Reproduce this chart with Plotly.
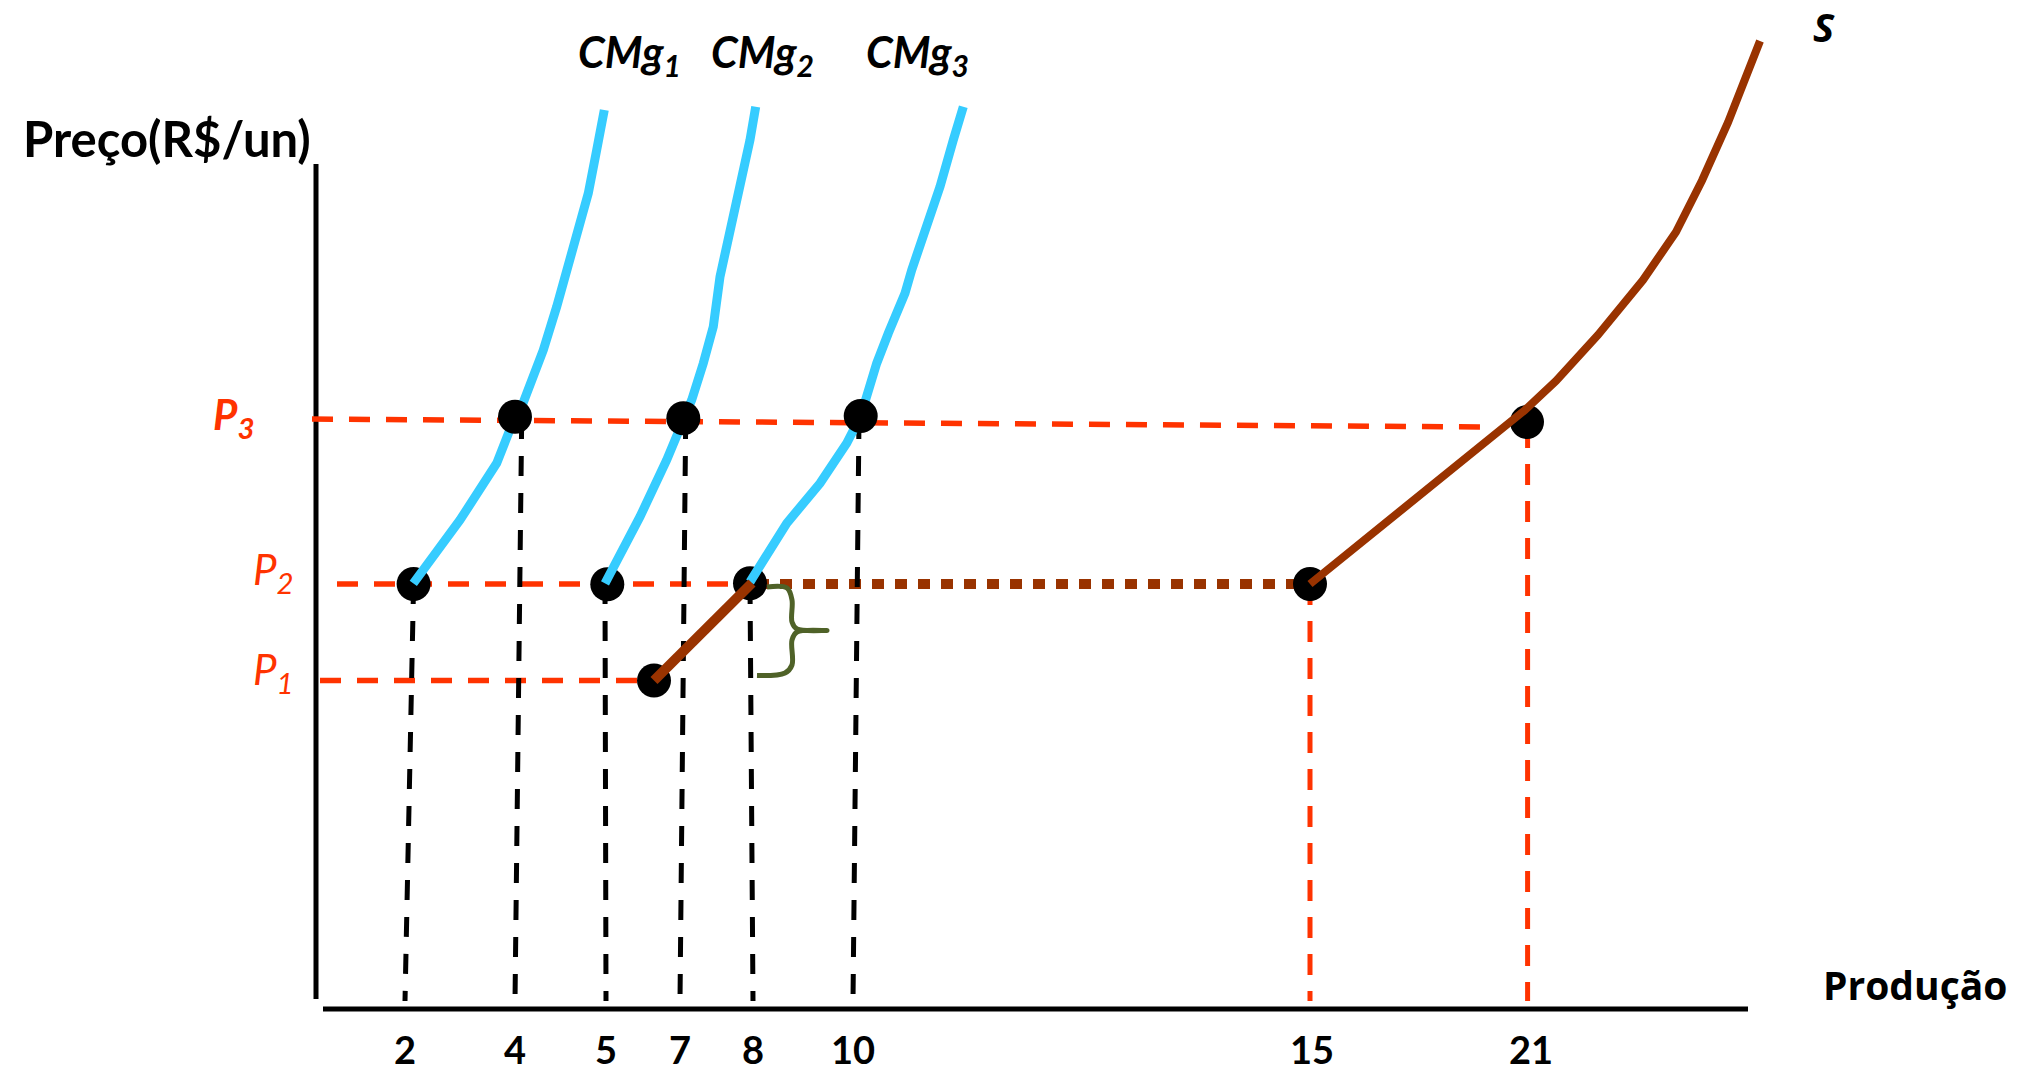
import plotly.graph_objects as go

# ---------------- data (diagram units: horizontal = production axis, vertical = price axis) ----
quantities = ["2", "4", "5", "7", "8", "10", "15", "21"]
q_axis = [89, 199, 290, 364, 437, 537, 996, 1215]          # where each quantity sits on the axis
price_names = ["P1", "P2", "P3"]
price_levels = [328.5, 425, 590]

# equilibrium points
dots_q = [97.6, 199, 291.3, 367.3, 434, 544.7, 994, 1211, 338]
dots_p = [425, 592.3, 424.7, 590.7, 425.7, 593, 425, 587, 328.5]

# marginal cost curves
cmg1_q = [97.3, 124, 144, 180.7, 199, 205.7, 214, 227.3, 240.7, 252.3, 262.3, 272.3, 280.7, 288.3]
cmg1_p = [425.7, 462.3, 489, 545.7, 592.3, 602.3, 622.3, 659, 702.3, 742.3, 775.7, 815.7, 859, 899]
cmg2_q = [289, 324, 350.7, 367.3, 375.7, 387.3, 397.3, 404, 415.7, 424, 434, 439.7]
cmg2_p = [425.7, 492.3, 549, 590.7, 609, 645.7, 682.3, 732.3, 782.3, 825.7, 869, 902.3]
cmg3_q = [434, 470.7, 504, 530.7, 544.7, 560.7, 572.3, 589, 595.7, 610.7, 624, 637.3, 647.3]
cmg3_p = [427, 485.7, 525.7, 565.7, 593, 645.7, 675.7, 715.7, 739, 782.3, 822.3, 869, 902.3]

# industry supply curve
s_q = [994, 1083, 1156.5, 1209, 1240, 1282, 1327, 1360, 1386, 1412, 1444]
s_p = [425, 498, 558, 599, 628, 674, 729, 777, 828.5, 886.5, 968]
s_low_q = [338, 436]
s_low_p = [328.5, 426]

# brace
brace_q = [451, 471, 476, 476, 481, 511, 481, 476, 476, 469, 441]
brace_p = [422, 421, 409, 387, 380, 378.5, 377, 369, 344, 336, 333.5]

BLUE = "#36CCFF"
RED = "#FF3300"
BROWN = "#993300"
GREEN = "#4F6228"

fig = go.Figure()

def line(x, y, color, width, dash=None, shape="linear"):
    fig.add_trace(go.Scatter(x=x, y=y, mode="lines", hoverinfo="skip",
                             line=dict(color=color, width=width, dash=dash, shape=shape)))

# axes
line([0, 0], [10, 845], "black", 5)
line([7, 1432], [0, 0], "black", 5)

# horizontal price guides
line([4, dots_q[8]], [price_levels[0], price_levels[0]], RED, 5.5, "21px,16px")
line([21, dots_q[4]], [price_levels[1], price_levels[1]], RED, 5.5, "21px,16px")
line([-4, 1175], [price_levels[2], 582], RED, 5.5, "21px,16px")
line([441, dots_q[6]], [price_levels[1], price_levels[1]], BROWN, 10, "12px,11px")

# vertical guides
top_q = [97.6, 205.7, 289, 369.7, 434, 543]
top_p = [425, 590, 425, 590, 425, 590]
for i in range(6):
    line([top_q[i], q_axis[i]], [top_p[i], 8], "black", 5, "20px,17px")
line([994, q_axis[6] - 2], [425, 8], RED, 5, "21px,16px")
line([1211.6, 1211.6], [582, 8], RED, 5, "21px,16px")

# lower dots (under curves)
lower = [0, 2, 4, 6, 7, 8]
fig.add_trace(go.Scatter(x=[dots_q[i] for i in lower], y=[dots_p[i] for i in lower],
                         mode="markers", hoverinfo="skip",
                         marker=dict(color="black", size=34, line=dict(width=0))))

# curves
line(cmg1_q, cmg1_p, BLUE, 9)
line(cmg2_q, cmg2_p, BLUE, 9)
line(cmg3_q, cmg3_p, BLUE, 9)
line(s_low_q, s_low_p, BROWN, 10)
line(s_q, s_p, BROWN, 8)
line(brace_q, brace_p, GREEN, 5, shape="spline")

# upper dots (on top of curves)
upper = [1, 3, 5]
fig.add_trace(go.Scatter(x=[dots_q[i] for i in upper], y=[dots_p[i] for i in upper],
                         mode="markers", hoverinfo="skip",
                         marker=dict(color="black", size=34, line=dict(width=0))))

ann = []
def text(t, x, y, size, color="black", family="Lato", bold=True, italic=False):
    ann.append(dict(text=t, x=x, y=y, xref="x", yref="y", showarrow=False,
                    xanchor="center", yanchor="middle",
                    font=dict(family=family, size=size, color=color,
                              weight="bold" if bold else "normal",
                              style="italic" if italic else "normal")))

text("Preço(R$/un)", -149, 871, 49)
text("CMg<sub>1</sub>", 313, 955, 43, italic=True)
text("CMg<sub>2</sub>", 446, 955, 43, italic=True)
text("CMg<sub>3</sub>", 601, 955, 43, italic=True)
text("S", 1508, 983, 40, family="Open Sans", italic=True)
text("Produção", 1599, 25, 39, family="Open Sans")
text("P<sub>3</sub>", -83, 592, 42, color=RED, italic=True)
text("P<sub>2</sub>", -43, 437, 42, color=RED, bold=False, italic=True)
text("P<sub>1</sub>", -43, 337, 42, color=RED, bold=False, italic=True)

fig.update_layout(
    width=2022, height=1071,
    margin=dict(l=0, r=0, t=0, b=50),
    paper_bgcolor="white", plot_bgcolor="white",
    showlegend=False,
    annotations=ann,
    xaxis=dict(range=[-316, 1706], showgrid=False, zeroline=False, showline=False,
               tickvals=q_axis, ticktext=quantities, ticks="",
               ticklabelstandoff=4,
               tickfont=dict(family="Lato", size=38, color="black", weight="bold")),
    yaxis=dict(range=[-12, 1009], visible=False, showgrid=False, zeroline=False),
)

fig.write_html("out.html", config={"displayModeBar": False},
               post_script="document.body.style.margin='0';document.body.style.overflow='hidden';")
